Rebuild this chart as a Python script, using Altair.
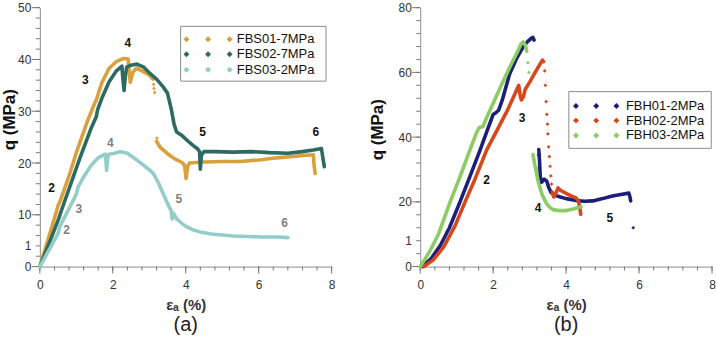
import altair as alt
import pandas as pd

# ---------------- Panel (a): FBS specimens ----------------
FBS_NAMES = ["FBS01-7MPa", "FBS02-7MPa", "FBS03-2MPa"]
FBS_COLORS = ["#D9A03C", "#2D6B62", "#93CDCA"]

fbs01_seg1_x = [0, 0.25, 0.45, 0.5, 0.55, 0.8, 1.0, 1.3, 1.5, 1.55, 1.7, 1.9, 2.1, 2.3, 2.42, 2.46, 2.48, 2.55, 2.65, 2.8, 3.0, 3.1]
fbs01_seg1_y = [0, 5.8, 10.5, 11.8, 12.5, 17.5, 22, 28, 31.5, 32.2, 35.5, 38.3, 39.6, 40.2, 40.1, 37, 35.6, 37.5, 38.3, 37.8, 37.0, 36.2]
fbs01_seg2_x = [3.2, 3.3, 3.5, 3.7, 3.9, 3.97, 4.01, 4.05, 4.1, 4.5, 5.0, 5.5, 6.0, 6.5, 7.0, 7.3, 7.5, 7.52, 7.55]
fbs01_seg2_y = [24.2, 23, 21.8, 20.8, 20.1, 19.5, 17, 19.3, 20, 20.2, 20.3, 20.3, 20.6, 21.0, 21.3, 21.5, 21.6, 19.5, 18.0]
fbs01_pts_x = [3.12, 3.13, 3.15, 3.21]
fbs01_pts_y = [35.2, 34.4, 33.6, 24.8]

fbs02_x = [0, 0.3, 0.52, 0.56, 0.8, 1.1, 1.4, 1.55, 1.58, 1.7, 1.9, 2.1, 2.25, 2.28, 2.31, 2.34, 2.38, 2.5, 2.66, 2.85,
           3.02, 3.2, 3.38, 3.5, 3.61, 3.68, 3.75, 3.9, 4.05, 4.2, 4.33, 4.38, 4.40, 4.43, 4.5, 4.8, 5.3, 5.8, 6.3, 6.8,
           7.2, 7.5, 7.72, 7.76, 7.8]
fbs02_y = [0, 5.3, 9.3, 10.2, 15, 21, 26.6, 29, 30.2, 32.5, 35.7, 37.8, 38.7, 36, 34, 36.5, 38.5, 38.9, 39.1, 38.5,
           37.3, 36.2, 34.7, 33.5, 30.2, 27.5, 26, 25.3, 24.3, 23.4, 22.7, 22.2, 18.8, 21.5, 22.2, 22.2, 22.1, 22.2, 22.0, 21.9,
           22.2, 22.5, 22.8, 21, 19.3]

fbs03_x = [0, 0.3, 0.5, 0.55, 0.6, 0.8, 1.0, 1.05, 1.2, 1.4, 1.6, 1.75, 1.8, 1.83, 1.86, 1.9, 2.05, 2.2, 2.4, 2.6,
           2.84, 3.0, 3.11, 3.25, 3.38, 3.5, 3.6, 3.63, 3.66, 3.75, 3.9, 4.02, 4.2, 4.39, 4.7, 5.0, 5.3, 5.7, 6.1, 6.5, 6.8]
fbs03_y = [0, 3.8, 6.4, 7.8, 8.5, 11.2, 14.0, 15.4, 17.3, 19.5, 21.0, 21.6, 21.7, 18.6, 21.0, 21.7, 21.9, 22.2, 21.9, 20.9,
           19.6, 18.7, 18.0, 16.2, 14.1, 12.2, 10.8, 9.2, 10.3, 9.2, 8.3, 7.7, 7.1, 6.7, 6.3, 6.1, 5.9, 5.8, 5.7, 5.7, 5.6]

fbs_black_labels = ["2", "3", "4", "5", "6"]
fbs_black_x = [0.32, 1.25, 2.41, 4.46, 7.57]
fbs_black_y = [15.1, 36, 43.2, 26, 26]
fbs_gray_labels = ["2", "3", "4", "5", "6"]
fbs_gray_x = [0.73, 1.07, 1.93, 3.81, 6.71]
fbs_gray_y = [7.1, 11.1, 23.9, 13, 8.5]

# ---------------- Panel (b): FBH specimens ----------------
FBH_NAMES = ["FBH01-2MPa", "FBH02-2MPa", "FBH03-2MPa"]
FBH_COLORS = ["#1B1F7A", "#D6481C", "#8DCB63"]

fbh01_seg1_x = [0.05, 0.3, 0.55, 0.8, 1.09, 1.35, 1.64, 1.85, 2.0, 2.08, 2.15, 2.25, 2.45, 2.65, 2.82, 2.95, 3.05, 3.09, 3.12]
fbh01_seg1_y = [0, 2.5, 6.5, 12, 20, 27.5, 36, 42.5, 47, 47.6, 48.3, 51.5, 59.5, 64.5, 67.9, 69.6, 70.6, 70.8, 70]
fbh01_seg2_x = [3.25, 3.27, 3.29, 3.32, 3.4, 3.47, 3.52, 3.59, 3.7, 3.82, 4.0, 4.27, 4.5, 4.73, 5.0, 5.27, 5.5, 5.72, 5.75, 5.77]
fbh01_seg2_y = [36.2, 33, 28, 26, 27, 26.4, 24.5, 22.8, 22, 21.6, 21, 20.4, 20.2, 20.3, 21, 21.8, 22.3, 22.7, 21.5, 20.3]
fbh01_pts_x = [3.24, 3.26, 5.84]
fbh01_pts_y = [34.5, 30.5, 12]

fbh02_seg1_x = [0.1, 0.35, 0.64, 0.95, 1.23, 1.5, 1.82, 2.1, 2.4, 2.6, 2.7, 2.74, 2.77, 2.83, 2.88, 3.0, 3.15, 3.28, 3.35, 3.38]
fbh02_seg1_y = [0, 2, 6, 12.5, 20, 27, 36, 42, 48.5, 53.5, 56, 53, 51.5, 52.5, 54.8, 57, 60, 62.5, 63.8, 63.3]
fbh02_seg2_x = [3.62, 3.66, 3.7, 3.78, 3.85, 4.0, 4.15, 4.27, 4.33, 4.37, 4.4]
fbh02_seg2_y = [23, 21.5, 22.3, 24.3, 23.5, 22.6, 21.8, 21.2, 20.5, 18.5, 16.2]
fbh02_pts_x = [3.41, 3.43, 3.45, 3.47, 3.49, 3.5, 3.52, 3.54, 3.56, 3.58, 3.6]
fbh02_pts_y = [60.5, 56, 51, 47, 44, 41, 37, 34, 31, 28, 25.5]

fbh03_seg1_x = [0, 0.25, 0.5, 0.82, 1.1, 1.36, 1.55, 1.62, 1.72, 1.8, 2.0, 2.2, 2.45, 2.65, 2.77, 2.82, 2.88, 2.92]
fbh03_seg1_y = [0, 4.5, 10, 20, 28, 36, 41.5, 43, 43.3, 45.5, 50.5, 55.5, 61.5, 66, 68.9, 69.4, 68.5, 66.5]
fbh03_seg2_x = [3.09, 3.15, 3.22, 3.27, 3.35, 3.45, 3.55, 3.64, 3.8, 4.0, 4.2, 4.35, 4.41]
fbh03_seg2_y = [34.6, 31, 27, 24.8, 22, 19.7, 18.3, 17.6, 17.3, 17.3, 17.8, 18.3, 18.5]
fbh03_pts_x = [2.95, 2.98]
fbh03_pts_y = [63, 60]

fbh_labels = ["2", "3", "4", "5"]
fbh_label_x = [1.82, 2.79, 3.23, 5.2]
fbh_label_y = [26.9, 45.8, 18.2, 15.1]

# axis tick positions (strain in %, minor every 0.4)
X_MAJOR = [0, 2, 4, 6, 8]
X_MINOR = [round(0.4 * i, 1) for i in range(21)]

# legend box placement, in each panel's data units
LEGEND_A = {"cx": 5.853, "cy": 41.1, "w": 146, "h": 55, "sym_x": 4.02, "text_x": 5.40,
            "rows": [43.9, 41.0, 38.0], "gap": 7.23}
LEGEND_B = {"cx": 6.027, "cy": 45.3, "w": 143, "h": 57, "sym_x": 4.27, "text_x": 5.64,
            "rows": [49.6, 45.1, 40.5], "gap": 6.77}

FONT = "Liberation Sans"
AXIS_GRAY = "#8c8c8c"
TICK_GRAY = "#777777"
PLOT_W, PLOT_H = 293, 260


def curve_table(series):
    rows = []
    for name, segments in series:
        for s, (xs, ys) in enumerate(segments):
            for i, (x, y) in enumerate(zip(xs, ys)):
                rows.append({"series": name, "seg": f"{name}/{s}", "i": i, "x": x, "y": y})
    return pd.DataFrame(rows)


def point_table(series):
    rows = []
    for name, xs, ys in series:
        for x, y in zip(xs, ys):
            rows.append({"series": name, "x": x, "y": y})
    return pd.DataFrame(rows)


def note_table(labels, xs, ys):
    return pd.DataFrame({"label": labels, "x": xs, "y": ys})


def diamonds_path(gap):
    # three small diamonds in a row, used as the legend symbol
    parts = []
    for k in range(3):
        c = k * gap
        parts.append(f"M{c - 1:.2f},0L{c:.2f},-1L{c + 1:.2f},0L{c:.2f},1Z")
    return " ".join(parts)


def box_path(w, h):
    r = h / w
    return f"M-1,{-r:.4f}H1V{r:.4f}H-1Z"


def panel(curves, points, notes, names, colors, ymax, minor, major, one_at,
          caption, leg, ytitle_x, ytitle_y):
    y_minor = list(range(0, ymax + 1, minor))
    y_major = list(range(0, ymax + 1, major))

    x_enc = alt.X(
        "x:Q",
        scale=alt.Scale(domain=[0, 8], nice=False),
        axis=alt.Axis(
            values=X_MINOR, ticks=False,
            labelExpr="datum.value % 2 === 0 ? format(datum.value, 'd') : ''",
            labelFlush=False, labelOverlap=False, labelPadding=13,
            title="εₐ (%)", titleY=38, titleBaseline="middle",
            titleFontSize=15, titleFontWeight="bold", titleColor="#333",
        ),
    )
    y_enc = alt.Y(
        "y:Q",
        scale=alt.Scale(domain=[0, ymax], nice=False),
        axis=alt.Axis(
            values=y_minor, ticks=False,
            labelExpr=(f"datum.value % {major} === 0 ? format(datum.value, 'd') : "
                       f"(datum.value === {one_at} ? '1' : '')"),
            labelOverlap=False, labelPadding=9,
            title="q (MPa)", titleX=ytitle_x, titleY=ytitle_y, titleBaseline="middle",
            titleFontSize=17, titleFontWeight="bold", titleColor="#111",
        ),
    )

    # tick marks: short strokes drawn as point symbols sitting on the axis lines
    def tick_layer(df, path, length):
        return alt.Chart(df).mark_point(
            shape=path, size=(2 * length) ** 2, filled=False, color=TICK_GRAY,
            strokeWidth=1, opacity=1, clip=False,
        ).encode(x=x_enc, y=y_enc)

    y_minor_ticks = tick_layer(pd.DataFrame({"x": 0, "y": y_minor}), "M-1,0L0,0", 4)
    y_major_ticks = tick_layer(pd.DataFrame({"x": 0, "y": y_major}), "M-1,0L0,0", 8)
    x_minor_ticks = tick_layer(pd.DataFrame({"x": X_MINOR, "y": 0}), "M0,0L0,1", 4)
    x_major_ticks = tick_layer(pd.DataFrame({"x": X_MAJOR, "y": 0}), "M0,0L0,1", 7)

    fill_scale = alt.Scale(domain=names, range=colors)

    lines = alt.Chart(curves).mark_line(strokeWidth=3.6, strokeJoin="round", strokeCap="round", clip=False).encode(
        x=x_enc, y=y_enc,
        stroke=alt.Stroke("series:N", scale=alt.Scale(domain=names, range=colors), legend=None),
        detail="seg:N",
        order="i:Q",
    )

    pts = alt.Chart(points).mark_point(filled=True, shape="diamond", size=14, opacity=1, clip=False).encode(
        x=x_enc, y=y_enc,
        fill=alt.Fill("series:N", scale=fill_scale, legend=None),
    )

    # legend: framed box, three diamonds per series and its name
    frame = alt.Chart(pd.DataFrame({"x": [leg["cx"]], "y": [leg["cy"]]})).mark_point(
        shape=box_path(leg["w"], leg["h"]), size=leg["w"] ** 2, filled=True,
        fill="white", stroke="#8a8a8a", strokeWidth=1, opacity=1, clip=False,
    ).encode(x=x_enc, y=y_enc)
    leg_symbol_rows = pd.DataFrame({
        "series": names,
        "x": [leg["sym_x"]] * len(names),
        "y": leg["rows"],
    })
    leg_label_rows = pd.DataFrame({
        "series": names,
        "x": [leg["text_x"]] * len(names),
        "y": leg["rows"],
    })
    leg_symbols = alt.Chart(leg_symbol_rows).mark_point(
        shape=diamonds_path(leg["gap"]), size=36, filled=True, opacity=1, strokeWidth=0, clip=False,
    ).encode(x=x_enc, y=y_enc, fill=alt.Fill("series:N", scale=fill_scale, legend=None))
    leg_labels = alt.Chart(leg_label_rows).mark_text(
        font=FONT, fontSize=13, color="#111", align="left", baseline="middle", clip=False,
    ).encode(x=x_enc, y=y_enc, text="series:N")

    layers = [y_minor_ticks, y_major_ticks, x_minor_ticks, x_major_ticks, lines, pts]
    for df, color in notes:
        layers.append(
            alt.Chart(df).mark_text(font=FONT, fontSize=12, fontWeight="bold", color=color, clip=False).encode(
                x=x_enc, y=y_enc, text="label:N"
            )
        )
    layers += [frame, leg_symbols, leg_labels]

    return alt.layer(*layers).properties(
        width=PLOT_W, height=PLOT_H,
        title=alt.TitleParams(caption, orient="bottom", fontSize=20, fontWeight="normal",
                              font=FONT, color="#222", offset=3),
    )


curves_a = curve_table([
    (FBS_NAMES[0], [(fbs01_seg1_x, fbs01_seg1_y), (fbs01_seg2_x, fbs01_seg2_y)]),
    (FBS_NAMES[1], [(fbs02_x, fbs02_y)]),
    (FBS_NAMES[2], [(fbs03_x, fbs03_y)]),
])
points_a = point_table([(FBS_NAMES[0], fbs01_pts_x, fbs01_pts_y)])
notes_a = [
    (note_table(fbs_black_labels, fbs_black_x, fbs_black_y), "#111"),
    (note_table(fbs_gray_labels, fbs_gray_x, fbs_gray_y), "#7f7f7f"),
]

curves_b = curve_table([
    (FBH_NAMES[0], [(fbh01_seg1_x, fbh01_seg1_y), (fbh01_seg2_x, fbh01_seg2_y)]),
    (FBH_NAMES[1], [(fbh02_seg1_x, fbh02_seg1_y), (fbh02_seg2_x, fbh02_seg2_y)]),
    (FBH_NAMES[2], [(fbh03_seg1_x, fbh03_seg1_y), (fbh03_seg2_x, fbh03_seg2_y)]),
])
points_b = point_table([
    (FBH_NAMES[0], fbh01_pts_x, fbh01_pts_y),
    (FBH_NAMES[1], fbh02_pts_x, fbh02_pts_y),
    (FBH_NAMES[2], fbh03_pts_x, fbh03_pts_y),
])
notes_b = [(note_table(fbh_labels, fbh_label_x, fbh_label_y), "#111")]

panel_a = panel(curves_a, points_a, notes_a, FBS_NAMES, FBS_COLORS, 50, 2, 10, 4,
                "(a)", LEGEND_A, -30.8, 112)
panel_b = panel(curves_b, points_b, notes_b, FBH_NAMES, FBH_COLORS, 80, 4, 20, 8,
                "(b)", LEGEND_B, -43.3, 122)

chart = (
    alt.hconcat(panel_a, panel_b, spacing=32)
    .resolve_scale(stroke="independent", fill="independent")
    .properties(padding={"left": 0, "top": 1, "right": 0, "bottom": 0})
    .configure_view(stroke=None)
    .configure_axis(
        labelFont=FONT, labelFontSize=12, labelColor="#333", labelOverlap=False,
        titleFont=FONT, domainColor=AXIS_GRAY, grid=False,
    )
    .configure_text(font=FONT)
)

chart.save("out.html", embed_options={"renderer": "svg", "actions": False})
